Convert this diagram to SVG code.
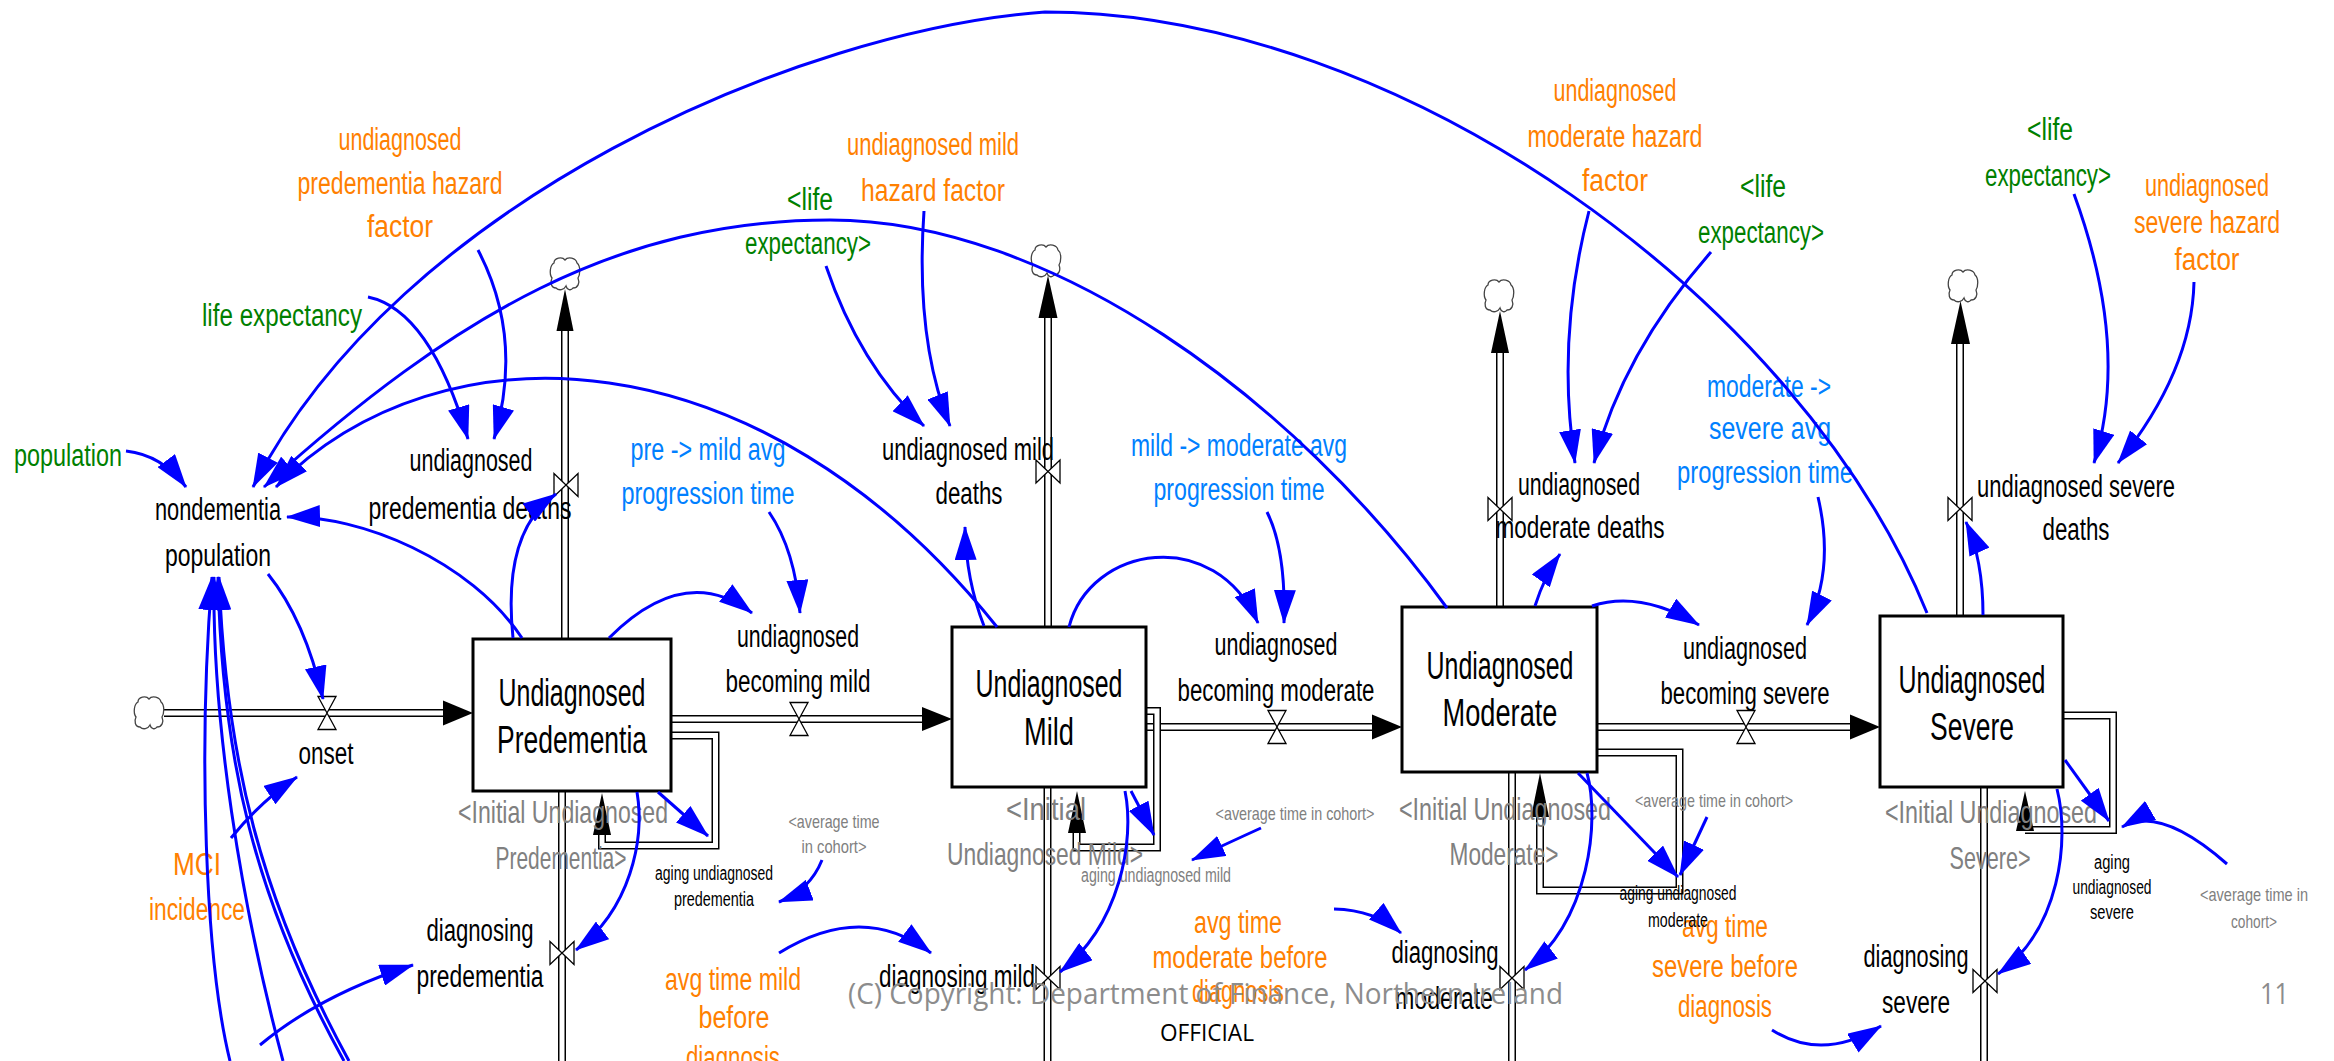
<svg xmlns="http://www.w3.org/2000/svg" xmlns:xlink="http://www.w3.org/1999/xlink" width="2334" height="1061" viewBox="0 0 2334 1061">
<style>
.t{font-family:"Liberation Sans Narrow","Liberation Sans",Arial,sans-serif;font-size:31px;text-anchor:middle}
.k{fill:#000}.o{fill:#FF8000}.g{fill:#008000}.b{fill:#0080FF}.y{fill:#808080}
.bx{font-size:38px}.ini{font-size:32px}.sm{font-size:19px}.ag{font-size:20px}
.stock{fill:#fff;stroke:#000;stroke-width:3}
.po{fill:none;stroke:#000;stroke-width:8}
.pi{fill:none;stroke:#fff;stroke-width:5}
.valve{fill:#fff;stroke:#000;stroke-width:1.3}
.cloud{fill:#fff;stroke:#444;stroke-width:1.3}
.con{fill:none;stroke:#0000FF;stroke-width:3;marker-end:url(#ah)}
.fa{fill:#000}
.foot{font-family:"Open Sans","Liberation Sans",sans-serif}
</style>
<defs>
<marker id="ah" markerUnits="userSpaceOnUse" viewBox="0 0 34 22" markerWidth="34" markerHeight="22" refX="33" refY="11" orient="auto"><path d="M0,0 L34,11 L0,22 Z" fill="#0000FF"/></marker>
<path id="cl" d="M-9,15 C-14,15 -15,9 -13,5 C-16,1 -15,-8 -11,-10 C-11,-15 -3,-17 0,-13 C3,-17 11,-15 12,-10 C16,-7 15,2 13,5 C15,10 13,15 8,15 C6,18 2,17 1,13 C-1,17 -6,18 -9,15 Z"/>
<path id="hg" d="M-9,-16.5 H9 L-9,16.5 H9 Z"/>
<path id="bt" d="M-12,-11.5 V11.5 L12,-11.5 V11.5 Z"/>
</defs>
<rect width="2334" height="1061" fill="#fff"/>

<g id="flows">
<path class="po" d="M164,713 H445 M671,719 H924 M1146,727 H1374 M1597,727 H1852"/>
<path class="pi" d="M164,713 H445 M671,719 H924 M1146,727 H1374 M1597,727 H1852"/>
<path class="po" d="M565,639 V329 M1048,627 V316 M1500,607 V351 M1960,616 V342 M562,791 V1070 M1047.5,787 V1070 M1512,772 V1070 M1984,787 V1070"/>
<path class="pi" d="M565,639 V329 M1048,627 V316 M1500,607 V351 M1960,616 V342 M562,791 V1070 M1047.5,787 V1070 M1512,772 V1070 M1984,787 V1070"/>
<path class="po" d="M671,735.5 H715.5 V845.5 H602 V833 M1146,711 H1157 V847.5 H1076.5 V833 M1588,772 V752.5 H1679.5 V890.5 H1540 V817 M2063,715.5 H2113 V830 H2025"/>
<path class="pi" d="M671,735.5 H715.5 V845.5 H602 V833 M1146,711 H1157 V847.5 H1076.5 V833 M1588,772 V752.5 H1679.5 V890.5 H1540 V817 M2063,715.5 H2113 V830 H2025"/>
<polygon class="fa" points="443,700.5 473,713 443,725.5"/>
<polygon class="fa" points="922,707 952,719 922,731"/>
<polygon class="fa" points="1372,714.5 1402,727 1372,739.5"/>
<polygon class="fa" points="1850,714.5 1880,727 1850,739.5"/>
<polygon class="fa" points="556.5,331 565,289 573.5,331"/>
<polygon class="fa" points="1038.5,318 1048,275.5 1057.5,318"/>
<polygon class="fa" points="1491,353 1500,311 1509,353"/>
<polygon class="fa" points="1951,344 1960.5,301 1970,344"/>
<polygon class="fa" points="593,835 602,793 611,835"/>
<polygon class="fa" points="1068,833 1077,791 1086,833"/>
<polygon class="fa" points="1531,817 1540,773 1549,817"/>
<polygon class="fa" points="2016,831 2025,791 2034,831"/>
<use href="#cl" x="149" y="712" class="cloud"/>
<use href="#cl" x="565" y="273" class="cloud"/>
<use href="#cl" x="1046" y="260" class="cloud"/>
<use href="#cl" x="1499" y="295" class="cloud"/>
<use href="#cl" x="1963" y="285" class="cloud"/>
</g>

<g id="stock-predementia"><rect class="stock" x="473" y="639" width="198" height="152"/>
<text class="t k bx" x="572" y="706" textLength="147" lengthAdjust="spacingAndGlyphs">Undiagnosed</text>
<text class="t k bx" x="572" y="753" textLength="150" lengthAdjust="spacingAndGlyphs">Predementia</text></g>
<g id="stock-mild"><rect class="stock" x="952" y="627" width="194" height="160"/>
<text class="t k bx" x="1049" y="697" textLength="147" lengthAdjust="spacingAndGlyphs">Undiagnosed</text>
<text class="t k bx" x="1049" y="745" textLength="50" lengthAdjust="spacingAndGlyphs">Mild</text></g>
<g id="stock-moderate"><rect class="stock" x="1402" y="607" width="195" height="165"/>
<text class="t k bx" x="1500" y="679" textLength="147" lengthAdjust="spacingAndGlyphs">Undiagnosed</text>
<text class="t k bx" x="1500" y="726" textLength="115" lengthAdjust="spacingAndGlyphs">Moderate</text></g>
<g id="stock-severe"><rect class="stock" x="1880" y="616" width="183" height="171"/>
<text class="t k bx" x="1972" y="693" textLength="147" lengthAdjust="spacingAndGlyphs">Undiagnosed</text>
<text class="t k bx" x="1972" y="740" textLength="84" lengthAdjust="spacingAndGlyphs">Severe</text></g>

<g id="onset"><use href="#hg" x="327" y="713" class="valve"/>
<text class="t k" x="326" y="764" textLength="55" lengthAdjust="spacingAndGlyphs">onset</text></g>
<g id="becoming-mild"><use href="#hg" x="799" y="719" class="valve"/>
<text class="t k" x="798" y="647" textLength="122" lengthAdjust="spacingAndGlyphs">undiagnosed</text>
<text class="t k" x="798" y="692" textLength="145" lengthAdjust="spacingAndGlyphs">becoming mild</text></g>
<g id="becoming-moderate"><use href="#hg" x="1277" y="727" class="valve"/>
<text class="t k" x="1276" y="655" textLength="123" lengthAdjust="spacingAndGlyphs">undiagnosed</text>
<text class="t k" x="1276" y="701" textLength="197" lengthAdjust="spacingAndGlyphs">becoming moderate</text></g>
<g id="becoming-severe"><use href="#hg" x="1746" y="727" class="valve"/>
<text class="t k" x="1745" y="659" textLength="124" lengthAdjust="spacingAndGlyphs">undiagnosed</text>
<text class="t k" x="1745" y="704" textLength="169" lengthAdjust="spacingAndGlyphs">becoming severe</text></g>

<g id="predementia-deaths"><use href="#bt" x="566" y="485" class="valve"/>
<text class="t k" x="471" y="471" textLength="123" lengthAdjust="spacingAndGlyphs">undiagnosed</text>
<text class="t k" x="470" y="519" textLength="203" lengthAdjust="spacingAndGlyphs">predementia deaths</text></g>
<g id="mild-deaths"><use href="#bt" x="1048" y="471.5" class="valve"/>
<text class="t k" x="968" y="460" textLength="172" lengthAdjust="spacingAndGlyphs">undiagnosed mild</text>
<text class="t k" x="969" y="504" textLength="67" lengthAdjust="spacingAndGlyphs">deaths</text></g>
<g id="moderate-deaths"><use href="#bt" x="1500" y="509" class="valve"/>
<text class="t k" x="1579" y="495" textLength="122" lengthAdjust="spacingAndGlyphs">undiagnosed</text>
<text class="t k" x="1580" y="538" textLength="169" lengthAdjust="spacingAndGlyphs">moderate deaths</text></g>
<g id="severe-deaths"><use href="#bt" x="1960" y="509" class="valve"/>
<text class="t k" x="2076" y="497" textLength="198" lengthAdjust="spacingAndGlyphs">undiagnosed severe</text>
<text class="t k" x="2076" y="540" textLength="67" lengthAdjust="spacingAndGlyphs">deaths</text></g>

<g id="diagnosing-predementia"><use href="#bt" x="562" y="953" class="valve"/>
<text class="t k" x="480" y="941" textLength="107" lengthAdjust="spacingAndGlyphs">diagnosing</text>
<text class="t k" x="480" y="987" textLength="127" lengthAdjust="spacingAndGlyphs">predementia</text></g>
<g id="diagnosing-mild"><use href="#bt" x="1048" y="978" class="valve"/>
<text class="t k" x="957" y="987" textLength="156" lengthAdjust="spacingAndGlyphs">diagnosing mild</text></g>
<g id="diagnosing-moderate"><use href="#bt" x="1512" y="978" class="valve"/>
<text class="t k" x="1445" y="963" textLength="107" lengthAdjust="spacingAndGlyphs">diagnosing</text>
<text class="t k" x="1444" y="1009" textLength="98" lengthAdjust="spacingAndGlyphs">moderate</text></g>
<g id="diagnosing-severe"><use href="#bt" x="1985" y="981" class="valve"/>
<text class="t k" x="1916" y="967" textLength="105" lengthAdjust="spacingAndGlyphs">diagnosing</text>
<text class="t k" x="1916" y="1013" textLength="68" lengthAdjust="spacingAndGlyphs">severe</text></g>

<g id="nondementia-population">
<text class="t k" x="218" y="520" textLength="126" lengthAdjust="spacingAndGlyphs">nondementia</text>
<text class="t k" x="218" y="566" textLength="106" lengthAdjust="spacingAndGlyphs">population</text></g>
<g id="population"><text class="t g" x="68" y="466" textLength="108" lengthAdjust="spacingAndGlyphs">population</text></g>
<g id="life-expectancy"><text class="t g" x="282" y="326" textLength="160" lengthAdjust="spacingAndGlyphs">life expectancy</text></g>
<g id="life-expectancy-mild"><text class="t g" x="810" y="210" textLength="46" lengthAdjust="spacingAndGlyphs">&lt;life</text>
<text class="t g" x="808" y="254" textLength="126" lengthAdjust="spacingAndGlyphs">expectancy&gt;</text></g>
<g id="life-expectancy-moderate"><text class="t g" x="1763" y="197" textLength="46" lengthAdjust="spacingAndGlyphs">&lt;life</text>
<text class="t g" x="1761" y="243" textLength="126" lengthAdjust="spacingAndGlyphs">expectancy&gt;</text></g>
<g id="life-expectancy-severe"><text class="t g" x="2050" y="140" textLength="46" lengthAdjust="spacingAndGlyphs">&lt;life</text>
<text class="t g" x="2048" y="186" textLength="126" lengthAdjust="spacingAndGlyphs">expectancy&gt;</text></g>

<g id="pre-hazard"><text class="t o" x="400" y="150" textLength="123" lengthAdjust="spacingAndGlyphs">undiagnosed</text>
<text class="t o" x="400" y="194" textLength="205" lengthAdjust="spacingAndGlyphs">predementia hazard</text>
<text class="t o" x="400" y="237" textLength="66" lengthAdjust="spacingAndGlyphs">factor</text></g>
<g id="mild-hazard"><text class="t o" x="933" y="155" textLength="172" lengthAdjust="spacingAndGlyphs">undiagnosed mild</text>
<text class="t o" x="933" y="201" textLength="144" lengthAdjust="spacingAndGlyphs">hazard factor</text></g>
<g id="moderate-hazard"><text class="t o" x="1615" y="101" textLength="123" lengthAdjust="spacingAndGlyphs">undiagnosed</text>
<text class="t o" x="1615" y="147" textLength="175" lengthAdjust="spacingAndGlyphs">moderate hazard</text>
<text class="t o" x="1615" y="191" textLength="66" lengthAdjust="spacingAndGlyphs">factor</text></g>
<g id="severe-hazard"><text class="t o" x="2207" y="196" textLength="124" lengthAdjust="spacingAndGlyphs">undiagnosed</text>
<text class="t o" x="2207" y="233" textLength="146" lengthAdjust="spacingAndGlyphs">severe hazard</text>
<text class="t o" x="2207" y="270" textLength="65" lengthAdjust="spacingAndGlyphs">factor</text></g>
<g id="mci-incidence"><text class="t o" x="197" y="875" textLength="48" lengthAdjust="spacingAndGlyphs">MCI</text>
<text class="t o" x="197" y="920" textLength="96" lengthAdjust="spacingAndGlyphs">incidence</text></g>
<g id="avg-time-mild"><text class="t o" x="733" y="990" textLength="136" lengthAdjust="spacingAndGlyphs">avg time mild</text>
<text class="t o" x="734" y="1028" textLength="71" lengthAdjust="spacingAndGlyphs">before</text>
<text class="t o" x="733" y="1068" textLength="94" lengthAdjust="spacingAndGlyphs">diagnosis</text></g>
<g id="avg-time-moderate"><text class="t o" x="1238" y="933" textLength="88" lengthAdjust="spacingAndGlyphs">avg time</text>
<text class="t o" x="1240" y="968" textLength="175" lengthAdjust="spacingAndGlyphs">moderate before</text>
<text class="t o" x="1238" y="1002" textLength="92" lengthAdjust="spacingAndGlyphs">diagnosis</text></g>
<g id="avg-time-severe"><text class="t o" x="1725" y="937" textLength="86" lengthAdjust="spacingAndGlyphs">avg time</text>
<text class="t o" x="1725" y="977" textLength="146" lengthAdjust="spacingAndGlyphs">severe before</text>
<text class="t o" x="1725" y="1017" textLength="94" lengthAdjust="spacingAndGlyphs">diagnosis</text></g>

<g id="pre-mild-time"><text class="t b" x="708" y="460" textLength="155" lengthAdjust="spacingAndGlyphs">pre -&gt; mild avg</text>
<text class="t b" x="708" y="504" textLength="173" lengthAdjust="spacingAndGlyphs">progression time</text></g>
<g id="mild-moderate-time"><text class="t b" x="1239" y="456" textLength="216" lengthAdjust="spacingAndGlyphs">mild -&gt; moderate avg</text>
<text class="t b" x="1239" y="500" textLength="171" lengthAdjust="spacingAndGlyphs">progression time</text></g>
<g id="moderate-severe-time"><text class="t b" x="1769" y="397" textLength="124" lengthAdjust="spacingAndGlyphs">moderate -&gt;</text>
<text class="t b" x="1770" y="439" textLength="122" lengthAdjust="spacingAndGlyphs">severe avg</text>
<text class="t b" x="1765" y="483" textLength="176" lengthAdjust="spacingAndGlyphs">progression time</text></g>

<g id="initial-predementia"><text class="t y ini" x="563" y="823" textLength="210" lengthAdjust="spacingAndGlyphs">&lt;Initial Undiagnosed</text>
<text class="t y ini" x="561" y="869" textLength="131" lengthAdjust="spacingAndGlyphs">Predementia&gt;</text></g>
<g id="initial-mild"><text class="t y ini" x="1046" y="820" textLength="80" lengthAdjust="spacingAndGlyphs">&lt;Initial</text>
<text class="t y ini" x="1045" y="865" textLength="196" lengthAdjust="spacingAndGlyphs">Undiagnosed Mild&gt;</text></g>
<g id="initial-moderate"><text class="t y ini" x="1505" y="820" textLength="212" lengthAdjust="spacingAndGlyphs">&lt;Initial Undiagnosed</text>
<text class="t y ini" x="1504" y="865" textLength="109" lengthAdjust="spacingAndGlyphs">Moderate&gt;</text></g>
<g id="initial-severe"><text class="t y ini" x="1991" y="823" textLength="212" lengthAdjust="spacingAndGlyphs">&lt;Initial Undiagnosed</text>
<text class="t y ini" x="1990" y="869" textLength="81" lengthAdjust="spacingAndGlyphs">Severe&gt;</text></g>

<g id="avg-cohort-1"><text class="t y sm" x="834" y="828" textLength="91" lengthAdjust="spacingAndGlyphs">&lt;average time</text>
<text class="t y sm" x="834" y="853" textLength="65" lengthAdjust="spacingAndGlyphs">in cohort&gt;</text></g>
<g id="avg-cohort-2"><text class="t y sm" x="1295" y="820" textLength="159" lengthAdjust="spacingAndGlyphs">&lt;average time in cohort&gt;</text></g>
<g id="avg-cohort-3"><text class="t y sm" x="1714" y="807" textLength="158" lengthAdjust="spacingAndGlyphs">&lt;average time in cohort&gt;</text></g>
<g id="avg-cohort-4"><text class="t y sm" x="2254" y="901" textLength="108" lengthAdjust="spacingAndGlyphs">&lt;average time in</text>
<text class="t y sm" x="2254" y="928" textLength="46" lengthAdjust="spacingAndGlyphs">cohort&gt;</text></g>

<g id="aging-predementia"><text class="t k ag" x="714" y="880" textLength="118" lengthAdjust="spacingAndGlyphs">aging undiagnosed</text>
<text class="t k ag" x="714" y="906" textLength="80" lengthAdjust="spacingAndGlyphs">predementia</text></g>
<g id="aging-mild"><text class="t y ag" x="1156" y="882" textLength="150" lengthAdjust="spacingAndGlyphs">aging undiagnosed mild</text></g>
<g id="aging-moderate"><text class="t k ag" x="1678" y="900" textLength="117" lengthAdjust="spacingAndGlyphs">aging undiagnosed</text>
<text class="t k ag" x="1678" y="927" textLength="60" lengthAdjust="spacingAndGlyphs">moderate</text></g>
<g id="aging-severe"><text class="t k ag" x="2112" y="869" textLength="36" lengthAdjust="spacingAndGlyphs">aging</text>
<text class="t k ag" x="2112" y="894" textLength="79" lengthAdjust="spacingAndGlyphs">undiagnosed</text>
<text class="t k ag" x="2112" y="919" textLength="44" lengthAdjust="spacingAndGlyphs">severe</text></g>

<g id="connectors">
<path class="con" d="M126,451 Q162,455 186,487"/>
<path class="con" d="M1927,613 C1800,300 1400,12 1045,12 C800,30 400,200 253,487"/>
<path class="con" d="M1447,608 C1294,397 1050,220 830,220 C620,220 456,313 264,487"/>
<path class="con" d="M997,627 C760,330 440,320 276,487"/>
<path class="con" d="M522,638 C470,560 360,515 287,517"/>
<path class="con" d="M513,638 C506,570 518,520 556,494"/>
<path class="con" d="M368,297 Q430,310 468,439"/>
<path class="con" d="M478,250 Q524,338 494,439"/>
<path class="con" d="M230,1061 C205,960 198,750 212,577"/>
<path class="con" d="M283,1061 C240,900 212,720 214,577"/>
<path class="con" d="M344,1061 C255,900 222,760 218,577"/>
<path class="con" d="M349,1061 C261,900 226,760 219,577"/>
<path class="con" d="M268,574 Q305,620 323,699"/>
<path class="con" d="M231,838 Q262,800 297,777"/>
<path class="con" d="M260,1045 Q320,995 413,965"/>
<path class="con" d="M609,638 Q685,562 752,613"/>
<path class="con" d="M769,512 Q795,550 800,613"/>
<path class="con" d="M658,792 L708,836"/>
<path class="con" d="M822,860 Q810,890 779,902"/>
<path class="con" d="M637,792 C645,840 630,910 576,950"/>
<path class="con" d="M984,626 Q966,580 965,527"/>
<path class="con" d="M826,266 Q859,364 924,426"/>
<path class="con" d="M924,211 Q915,340 950,426"/>
<path class="con" d="M1069,627 C1090,545 1215,525 1258,623"/>
<path class="con" d="M1267,512 Q1286,550 1284,623"/>
<path class="con" d="M1131,791 L1154,835"/>
<path class="con" d="M1261,828 Q1228,843 1192,860"/>
<path class="con" d="M1125,791 C1135,840 1120,925 1060,972"/>
<path class="con" d="M779,953 Q863,901 931,953"/>
<path class="con" d="M1535,606 Q1545,575 1560,554"/>
<path class="con" d="M1589,211 Q1556,339 1575,463"/>
<path class="con" d="M1711,252 Q1623,352 1594,463"/>
<path class="con" d="M1592,606 Q1640,590 1699,625"/>
<path class="con" d="M1818,497 Q1835,570 1807,625"/>
<path class="con" d="M1578,773 L1678,877"/>
<path class="con" d="M1707,817 L1680,875"/>
<path class="con" d="M1587,773 C1600,820 1590,920 1525,970"/>
<path class="con" d="M1334,909 Q1375,910 1401,933"/>
<path class="con" d="M1983,615 Q1983,560 1966,522"/>
<path class="con" d="M2074,194 Q2130,347 2094,463"/>
<path class="con" d="M2194,282 Q2192,371 2118,463"/>
<path class="con" d="M2065,760 L2109,821"/>
<path class="con" d="M2227,864 Q2160,805 2122,827"/>
<path class="con" d="M2057,789 C2070,840 2060,930 1998,974"/>
<path class="con" d="M1772,1030 Q1822,1062 1881,1026"/>
</g>

<g id="footer">
<text class="foot" x="848" y="1004" font-size="29" fill="#8C8C8C" textLength="715" lengthAdjust="spacingAndGlyphs">(C) Copyright: Department of Finance, Northern Ireland</text>
<text class="foot" x="1160" y="1041" font-size="23" fill="#000" textLength="94" lengthAdjust="spacingAndGlyphs">OFFICIAL</text>
<text class="foot" x="2260" y="1004" font-size="29" fill="#8C8C8C" textLength="29" lengthAdjust="spacingAndGlyphs">11</text>
</g>
</svg>
